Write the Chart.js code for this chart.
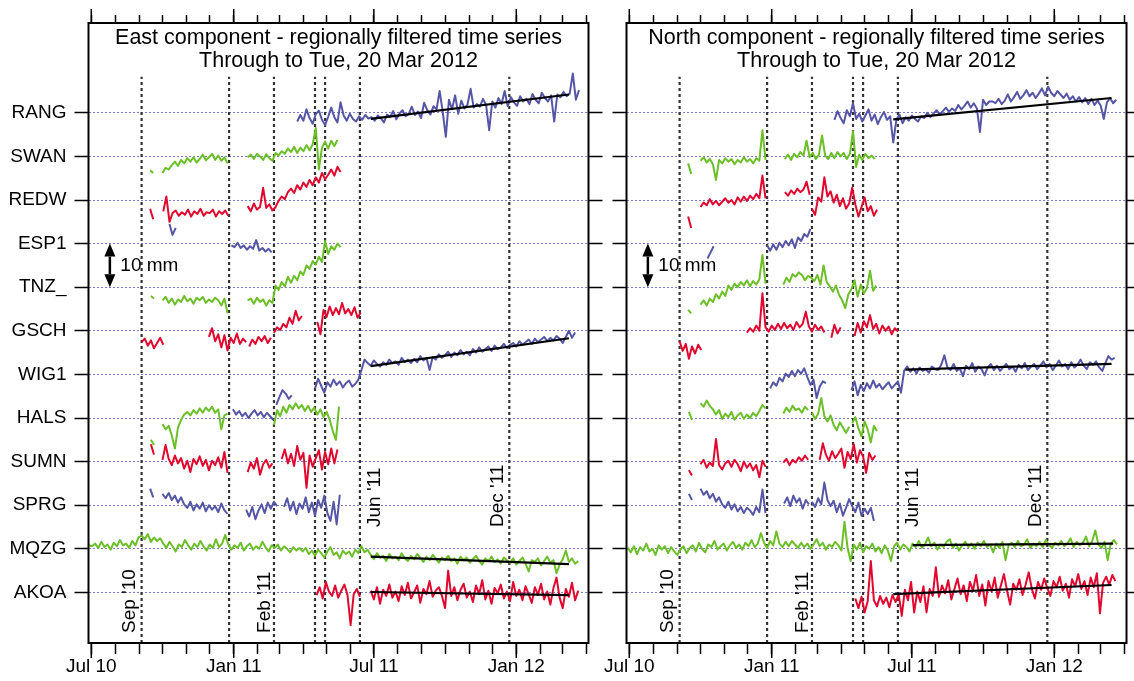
<!DOCTYPE html>
<html>
<head>
<meta charset="utf-8">
<script src="https://cdn.jsdelivr.net/npm/chart.js@4.4.1/dist/chart.umd.min.js"></script>
<style>
  html, body { margin: 0; padding: 0; background: #fff; }
  #wrap { position: relative; width: 1134px; height: 681px; overflow: hidden; }
  canvas { position: absolute; top: 0; }
  #east { left: 0; }
  #north { left: 538px; }
</style>
</head>
<body>
<div id="wrap">
  <canvas id="east" width="620" height="681"></canvas>
  <canvas id="north" width="596" height="681"></canvas>
</div>
<script>
// x values are days since 1 Jul 2010, y values are mm relative to each station's line
const stationNames = ["AKOA", "MQZG", "SPRG", "SUMN", "HALS", "WIG1", "GSCH", "TNZ_", "ESP1", "REDW", "SWAN", "RANG"];
const monthTickDays = [0, 31, 62, 92, 123, 153, 184, 215, 243, 274, 304, 335, 365, 396, 427, 457, 488, 518, 549, 580, 609, 640];
const yearTickDays = [0, 184, 365, 549];
const yearTickLabels = ["Jul 10", "Jan 11", "Jul 11", "Jan 12"];
const eventDays = [65, 178, 236, 289, 302, 347, 540];
const eventNames = ["Sep '10", "Feb '11", "Jun '11", "Dec '11"];
const eventNameDays = [65, 236, 347, 540];
const STEP = 4; // days between samples

// ---- East component: [first day, values...] per segment
const eastRANG = [[266, [-2.0,-0.5,-1.8,0.8,-1.2,-2.5,-0.3,0.5,-1.6,-2.8,-0.9,1.2,-1.0,-2.2,2.4,-0.6,-1.8,-0.2,-1.4,-2.0,-0.8,-1.6,-0.5,-1.3,-1.0,-1.8,-0.6,-1.2,-2.2,-0.4,-1.0,0.4,-1.5,-0.2,0.6,-0.8,-0.3,1.4,-0.5,0.3,-1.2,2.3,0.6,-0.4,1.5,0.8,5.0,0.2,-5.5,3.0,0.8,4.0,-0.2,2.8,1.0,1.9,5.5,1.2,2.0,1.4,3.2,1.8,-4.0,2.6,1.2,3.4,2.0,5.0,1.5,3.6,2.4,1.6,3.8,2.6,3.2,2.0,4.3,3.0,2.2,4.6,3.4,2.6,4.0,-2.0,4.2,3.6,4.8,3.8,4.4,9.0,3.0,5.2]]];
const eastSWAN = [[76, [-3.2,-3.8]], [92, [-3.8,-2.6,-3.0,-2.0,-1.2,-2.2,-0.8,-1.6,-0.4,-1.2,-0.2,-1.4,-0.6,0.4,-0.9,-0.2,0.6,-0.8,0.2,-1.0,-0.2,-1.6]], [202, [-0.2,0.4,-0.6,0.6,0.0,-0.8,0.5,-0.4,-1.0,0.8,0.2,1.2,0.6,1.8,1.0,2.2,0.8,2.0,1.2,2.6,1.4,2.8,6.5,-3.0,2.0,3.4,1.8,3.6,2.4,3.8]]];
const eastREDW = [[76, [-2.0,-4.4]], [93, [-2.6,0.8,-5.0,-3.0,-2.4,-3.6,-2.8,-3.4,-2.2,-3.8,-2.6,-3.2,-2.0,-3.6,-2.8,-3.0,-2.2,-3.8,-2.6,-3.2,-2.4,-3.6]], [202, [-1.4,-2.6,-0.8,-2.2,-1.6,2.8,-1.8,-1.0,-2.4,-1.6,-0.2,0.8,0.2,1.8,2.6,1.6,3.4,2.4,4.0,3.0,4.6,3.4,5.2,4.0,6.2,4.8,5.8,7.0,5.6,7.6,6.4]]];
const eastESP1 = [[101, [4.5,2.0,3.6]], [181, [-0.4,-0.8,0.2,-1.0,-0.4,-1.4,-0.6,-1.2,0.8,-1.6,-1.0,-1.8,-1.2,-2.0]]];
const eastTNZ = [[77, [-2.0,-2.6]], [92, [-3.0,-2.2,-3.6,-2.6,-4.0,-2.8,-3.4,-2.0,-3.2,-2.6,-3.8,-2.4,-3.0,-2.2,-3.6,-2.8,-3.4,-2.4,-3.0,-4.2,-2.6,-6.0]], [202, [-3.0,-2.6,-3.8,-2.4,-3.4,-2.8,-4.2,-3.0,-3.6,0.4,-0.6,1.2,0.2,2.4,1.0,2.6,1.6,3.6,2.8,5.0,4.2,6.0,5.2,7.0,5.8,10.6,7.6,9.4,8.6,10.0,9.2]]];
const eastGSCH = [[65, [-2.6,-1.8,-3.4,-2.2,-4.0,-2.8,-1.6,-3.2]], [152, [-1.4,0.6,-2.4,-0.8,-3.8,-1.0,-4.5,-1.6,-2.8,-0.6,-3.0,-1.8,-2.6]], [204, [-3.6,-2.0,-3.0,-1.4,-2.4,-1.2,-2.8,-1.6]], [236, [-0.5,0.8,0.2,1.6,0.8,3.0,1.6,4.6,2.4,3.4]], [292, [2.0,-0.8,4.8,3.2,5.6,3.6,5.2,3.8,6.4,4.0,5.0,3.6,5.4,3.0,4.2]]];
const eastWIG1 = [[183, [-8.0,-9.2,-8.4,-9.6,-8.8,-10.0,-9.0,-8.2,-9.4,-8.6,-9.8,-8.8,-9.6,-10.4]], [239, [-7.0,-5.2,-3.6,-4.4,-5.6,-4.8]], [289, [-3.2,-1.0,-2.6,-4.2,-1.8,-2.8,-1.2,-2.4,-1.6,-3.0,-2.0,-1.4,-2.8,-2.2,-1.2,1.0,3.4,2.6,2.0,3.2,2.4,1.8,2.8,2.2,3.4,2.6,3.0,2.2,3.8,2.8,3.4,2.6,3.6,2.8,4.2,3.2,3.8,1.0,4.0,3.4,4.6,3.8,4.4,5.2,4.0,5.0,4.4,5.6,4.6,5.2,4.4,5.8,5.0,6.2,5.2,5.8,6.4,5.4,6.6,5.8,6.2,7.0,6.0,6.8,7.2,6.4,7.6,6.8,7.4,8.0,7.0,8.2,7.4,8.0,8.6,7.6,8.4,7.8,8.8,8.2,7.2,8.6,10.0,8.4,9.6]]];
const eastHALS = [[77, [-5.0,-6.2]], [92, [-1.4,-2.6,-1.8,-4.0,-7.0,-2.2,-0.4,0.8,1.4,0.6,1.8,1.0,2.2,1.2,2.4,1.6,2.6,1.2,2.0,-2.6,0.6,1.0]], [236, [-1.6,1.8,0.4,2.6,1.2,3.0,2.0,3.4,2.2,3.0,1.6,2.8,1.4,2.4,0.8,2.0,0.2,1.4,-0.4,-3.0,-5.0,2.6]]];
const eastSUMN = [[77, [4.0,1.6]], [92, [0.4,3.8,0.6,-0.8,1.4,-0.4,0.8,-1.6,0.2,-2.4,0.6,-0.6,1.2,-1.0,0.4,-2.0,0.2,-0.8,1.0,-1.4,2.2,-2.6]], [202, [-2.4,-0.2,-1.6,0.8,-3.0,-0.6,0.4,-1.4,-0.4]], [246, [0.6,2.8,-0.4,1.8,-1.0,3.6,0.4,2.0,-6.0,1.4,-1.2,0.8,2.6,-1.8,2.2,-0.6,3.0,-0.4,2.8]]];
const eastSPRG = [[76, [3.8,1.8]], [92, [2.6,1.6,2.8,1.2,2.2,0.6,1.8,0.2,-0.6,0.8,-1.2,0.2,-0.8,0.6,-1.4,0.0,-1.0,-0.2,-1.6,0.4,-1.2,-2.0]], [200, [-1.0,-2.6,-0.4,-3.2,-1.2,0.2,-1.8,0.6,-0.8,0.8,-0.2]], [249, [-0.4,1.6,-1.2,0.8,-2.0,0.4,-0.8,1.8,-1.6,0.6,-2.4,1.2,-0.6,2.2,-1.8,-3.6,0.8,-4.4,2.4]]];
const eastMQZG = [[-3, [0.8,0.6,1.2,0.2,1.6,0.4,1.0,-0.2,1.4,0.6,2.0,0.8,1.2,0.2,1.8,0.8,2.6,
  3.0,2.2,3.4,1.6,2.6,1.8,2.4,
  1.2,0.2,1.6,0.6,-0.6,1.0,0.4,2.0,0.8,-0.2,1.2,0.4,1.8,0.6,-0.4,1.0,0.2,2.2,0.4,1.2,3.2,
  1.0,-0.2,0.8,0.2,1.4,-0.4,0.6,1.2,-0.2,0.6,0.0,1.6,0.4,-0.6,0.8,0.2,1.0,-0.4,0.6,0.0,-0.8,0.4,-0.4,0.2,
  -0.6,0.2,-1.2,-0.4,-1.6,-0.2,-1.0,-2.0,-0.6,0.4,-1.4,-0.8,-2.2,-0.4,-1.2,-0.6,-1.8,-0.2,-1.0,0.6,-0.8,-0.2,
  -1.4,-2.4,-1.0,-2.0,-1.6,-2.8,-1.2,-2.2,-1.8,-2.6,-1.0,-2.2,-2.8,-1.6,-2.4,-1.2,-2.0,-3.0,-1.8,-2.6,-1.4,-2.2,-3.2,-2.0,-2.6,-1.6,-2.8,-2.2,-3.4,-1.8,-2.6,-2.0,-3.2,-2.4,-1.6,-2.8,-3.6,-2.2,-2.8,-1.8,-3.0,-2.4,-3.4,-2.0,-2.6,-3.2,-2.2,-3.6,-2.8,-2.0,-3.4,-5.2,-2.6,-3.0,-2.2,-3.8,-2.8,-1.8,-3.2,-2.6,-5.6,-3.6,-2.4,-0.4,-3.0,-2.2,-3.4,-2.8]]];
const eastAKOA = [[291, [-0.6,1.2,-1.4,2.4,0.2,-0.8,1.6,-1.2,0.4,1.8,-0.6,-7.5,-0.4,0.8,-1.0]], [361, [0.4,-1.6,1.2,-2.6,0.6,-0.8,1.8,-1.2,0.2,-2.0,1.4,-0.6,2.2,-1.4,0.0,1.6,-2.4,0.8,-0.4,2.6,-1.0,0.4,1.2,-0.8,-3.6,5.0,-0.8,1.2,-1.8,0.6,2.0,-1.2,0.2,-2.2,1.6,-0.4,2.8,-1.6,0.4,-2.6,1.0,-0.2,1.8,-1.4,0.2,-2.0,2.4,-0.8,0.6,-1.8,1.4,-0.4,-2.4,1.2,-0.6,2.0,-1.6,0.2,-2.8,1.0,3.4,-1.2,-3.6,0.8,-1.0,2.2,-1.8,0.4]]];
// fitted lines: station, day1, mm1, day2, mm2
const eastTrends = [["RANG", 361, -1.4, 617, 4.2], ["WIG1", 361, 1.9, 617, 8.3], ["MQZG", 361, -1.8, 617, -3.5], ["AKOA", 361, 0.1, 617, -0.6]];

// ---- North component
const northRANG = [[265, [-1.6,0.4,-1.2,-2.4,0.6,-0.8,2.2,-1.4,-0.2,-2.0,-0.6,0.8,-1.8,-0.4,-2.6,-1.0,0.2,-1.6,-0.8,-6.8,-1.6,-0.4,-2.4,-1.0,-1.8,-0.6,-1.4,-2.0,-0.8,-1.2,0.0,-1.0,-0.2,0.6,-0.4,0.4,1.2,0.2,1.0,0.4,1.8,0.8,1.6,2.6,1.2,2.2,1.0,-4.4,3.0,1.8,2.6,2.6,2.2,3.2,2.0,2.8,4.2,2.6,3.6,4.8,3.2,4.0,5.2,3.8,4.6,3.4,4.4,5.6,4.0,6.0,4.6,3.8,5.0,4.2,3.4,4.4,3.0,3.8,2.6,3.6,2.4,3.4,2.0,3.2,1.8,2.8,1.6,-1.4,2.4,3.4,2.2,3.0]]];
const northSWAN = [[76, [-1.6,-4.0]], [92, [-1.0,-0.2,-1.4,-0.6,-1.8,-5.4,-0.8,-1.6,-0.4,-1.2,-0.6,-1.8,-0.8,-1.4,-0.2,-1.2,-0.6,-1.6,-0.4,-1.0,6.0,-0.8]], [201, [-0.6,0.4,-0.8,0.6,-0.2,1.0,0.2,3.6,-0.2,0.8,-0.6,0.4,4.8,0.2,-0.6,0.8,-0.4,1.0,0.0,0.8,-0.6,0.6,5.8,-2.4,0.4,-0.8,0.6,-0.4,0.2,-0.6]]];
const northREDW = [[76, [-3.8,-6.4]], [92, [-1.6,-0.6,-1.2,0.2,-1.0,-0.2,-1.2,-0.4,0.4,-0.6,0.0,-1.0,0.6,-0.4,0.8,-0.2,1.0,0.2,1.4,0.4,5.6,0.4]], [201, [1.8,1.0,2.2,1.4,2.6,1.8,2.4,4.2,1.2]], [236, [-2.0,-3.4,0.6,-0.4,5.2,0.8,2.0,-0.6,1.2,-1.4,0.4,-2.0,-0.8,2.8,-1.0,-3.8,-1.6,0.6,-2.6,-1.4,-3.6,-2.2]]];
const northESP1 = [[101, [-3.4,-2.0,-0.6]], [178, [-0.4,-1.6,-0.2,-1.4,0.2,-0.8,0.6,-0.4,1.0,-1.0,1.4,0.6,2.2,1.6,3.4]]];
const northTNZ = [[76, [-5.2,-6.0]], [92, [-4.0,-3.0,-4.2,-2.6,-3.4,-1.6,-2.6,-1.0,-2.0,0.4,-0.6,0.8,0.0,1.2,0.4,1.6,0.2,1.4,0.6,1.8,7.4,0.8]], [199, [0.6,2.2,1.2,3.0,2.4,3.4,2.8,1.6,2.6,2.2,1.4,2.8,0.6,5.0,1.2,0.2,-1.0,0.4,-1.8,-3.0,-4.8,-1.6,-0.4,1.6,-2.2,0.6,-1.4,-0.2,3.8,-0.8,0.4]]];
const northGSCH = [[65, [-2.4,-4.6,-3.0,-6.4,-3.6,-5.2,-3.2,-4.4]], [152, [-0.4,0.6,-0.2,1.2,0.0,8.6,0.8,-0.2,1.2,0.2,1.6,0.4,1.8,0.6,1.4,0.2,2.0,0.8,1.6,4.4,1.0,-0.2,1.4,0.2,1.0,-0.4]], [261, [-1.6,1.4,-0.6,0.8]], [291, [-1.2,1.8,-0.4,2.2,0.8,3.6,0.4,1.6,-0.6,1.2,0.0,1.0,-0.8,0.6,-0.2]]];
const northWIG1 = [[182, [-3.2,-1.8,-2.6,-0.8,-1.6,0.2,-0.6,0.8,-0.4,1.0,0.2,1.4,-0.6,-2.4,-1.2,-5.4,-2.8,-1.6,-2.0]], [287, [-3.6,-1.6,-4.8,-2.4,-3.8,-2.0,-3.2,-1.4,-3.0,-2.2,-3.4,-2.6,-1.8,-3.2,-2.4,-1.6,-4.2,0.8,1.8,0.6,1.4,0.2,1.6,0.8,1.2,0.4,1.8,1.2,1.0,2.2,4.4,1.6,1.0,2.4,0.8,1.4,-0.4,2.0,1.2,2.6,0.6,1.8,1.2,-0.2,1.6,2.4,1.0,2.0,0.8,1.6,2.4,1.2,1.8,0.6,2.2,1.4,2.6,1.0,1.8,2.4,1.2,2.0,3.0,1.6,2.4,1.0,2.0,3.2,1.8,2.4,1.2,2.8,1.6,2.2,3.4,2.0,1.2,2.8,2.2,3.0,1.6,0.8,2.6,4.2,3.4,3.8]]];
const northHALS = [[77, [1.4,-0.4]], [92, [3.4,2.6,4.0,2.8,2.0,0.8,1.8,-0.2,1.0,0.2,1.4,-0.4,0.6,1.2,-0.2,0.8,0.0,1.2,0.4,1.6,3.0,2.2]], [199, [1.0,2.4,1.4,2.8,1.8,2.2,1.2,2.6,1.8]], [236, [1.2,-0.2,1.0,4.6,0.4,-0.8,0.6,-1.6,-2.8,-1.0,-2.2,-3.4,-2.0]], [288, [-1.2,0.2,-2.4,-4.2,-0.8,-2.6,-5.6,-1.8,-3.0]]];
const northSUMN = [[77, [-2.0,-3.2]], [92, [-0.6,0.4,-1.4,-0.2,-1.0,5.2,-0.8,-1.8,-0.4,0.2,-1.2,0.4,-0.6,-2.2,0.0,-1.4,-0.4,-2.0,-0.8,-3.6,0.2,-1.2]], [199, [-0.2,0.6,-0.8,0.4,-0.2,1.0,0.2,1.4,0.4]], [246, [0.4,4.2,1.6,0.2,2.4,0.8,1.8,3.0,-1.4,2.2,0.6,4.0,-0.2,2.6,1.2,-2.6,2.0,0.4,1.4]]];
const northSPRG = [[77, [2.6,1.2]], [92, [3.8,2.4,3.2,1.6,2.6,0.8,1.8,0.2,-0.6,0.8,-1.0,0.2,-1.4,-0.4,-1.8,-0.6,-1.2,-2.2,-0.4,-1.6,3.6,-1.8]], [200, [0.4,1.8,-0.2,2.2,0.6,1.6,-0.8,1.2,0.2]], [236, [0.8,-0.4,1.6,0.2,5.2,1.2,-0.2,1.0,-1.6,0.4,-2.4,-0.6,1.4,-0.2,-1.6,0.6,-2.4,-0.8,-2.0,-0.6,-3.6]]];
const northMQZG = [[-2, [0.2,-0.8,0.6,-1.2,0.4,-0.4,1.2,-0.6,0.0,-1.4,0.8,-0.2,0.6,-1.0,0.4,-0.6,-1.4,
  -0.2,0.6,-1.0,0.2,0.8,-0.6,1.4,0.0,-0.8,1.0,0.4,1.8,-0.2,0.6,1.2,-0.4,0.8,1.6,0.2,1.0,-0.2,1.4,0.6,2.0,0.4,1.2,3.6,1.4,
  0.2,1.8,0.8,4.0,1.2,0.4,1.6,0.6,1.8,1.0,0.2,1.4,0.4,1.2,0.0,1.0,2.2,0.6,1.4,-0.2,1.0,0.4,1.6,0.8,
  -0.4,6.2,0.2,-2.8,1.0,-0.2,1.4,-0.8,0.6,0.0,1.2,-0.6,0.4,-1.0,0.8,-0.4,-2.8,0.6,1.4,-0.2,1.0,0.4,-0.6,
  1.2,0.4,1.8,0.2,1.0,2.6,0.6,1.4,-0.2,1.0,0.4,1.6,2.2,0.2,1.2,-0.4,0.8,1.6,0.4,1.2,0.0,1.4,0.6,1.8,0.4,1.0,-0.8,1.2,0.2,1.6,-2.6,0.8,1.4,0.4,1.8,0.6,1.0,2.2,0.2,1.2,0.6,1.6,0.4,2.0,1.0,0.2,1.4,0.8,1.8,0.6,1.2,2.4,0.4,1.6,0.8,1.4,2.8,0.6,1.8,4.2,1.0,0.2,1.6,-2.6,1.2,2.0,1.0]]];
const northAKOA = [[292, [-1.4,-3.6,-1.0,-4.6,-2.0,7.2,-1.8,-3.2,-0.8,-2.6,-1.2,-3.4,-0.6,-2.2,-0.4,-5.4,0.6,-1.8,2.4,-4.6,0.2,-2.2,1.4,-4.6,0.8,-0.8,5.8,-1.0,1.6,-0.2,2.8,-1.6,0.8,3.2,-0.4,1.6,-2.0,2.4,0.4,4.0,-0.8,1.8,-3.0,2.6,0.2,3.4,-1.2,1.6,4.2,0.4,-2.8,2.0,0.6,3.0,-0.6,1.8,4.6,0.8,-1.4,2.4,0.6,3.2,1.0,-0.8,2.6,1.2,3.6,0.4,2.0,-1.2,3.0,1.4,4.2,0.8,2.6,-0.6,3.4,1.2,4.4,-4.8,2.2,3.6,1.8,4.0,2.6]]];
const northTrends = [["RANG", 341, -1.5, 623, 3.4], ["WIG1", 357, 1.1, 623, 2.4], ["MQZG", 366, 0.85, 625, 1.2], ["AKOA", 341, -0.4, 623, 1.7]];

const eastSeries = { RANG: eastRANG, SWAN: eastSWAN, REDW: eastREDW, ESP1: eastESP1, TNZ_: eastTNZ, GSCH: eastGSCH, WIG1: eastWIG1, HALS: eastHALS, SUMN: eastSUMN, SPRG: eastSPRG, MQZG: eastMQZG, AKOA: eastAKOA };
const northSeries = { RANG: northRANG, SWAN: northSWAN, REDW: northREDW, ESP1: northESP1, TNZ_: northTNZ, GSCH: northGSCH, WIG1: northWIG1, HALS: northHALS, SUMN: northSUMN, SPRG: northSPRG, MQZG: northMQZG, AKOA: northAKOA };

// ---- layout / style
const X_MIN = -3.6, X_MAX = 642.3;
const Y_MIN = -11.6, Y_MAX = 130.6;
const EVENT_TOP = 118.3;
const FONT = '"Liberation Sans", Arial, sans-serif';
const colours = ["#e0082e", "#6cbf28", "#5656a6"]; // red, green, blue, repeating up the stations

const decorations = {
  id: "decorations",
  afterDraw(chart, args, o) {
    const { ctx, chartArea: a } = chart;
    const x = chart.scales.x, y = chart.scales.y;
    ctx.save();
    ctx.strokeStyle = "#000";
    ctx.fillStyle = "#000";
    ctx.lineWidth = 2;
    ctx.strokeRect(a.left, a.top, a.right - a.left, a.bottom - a.top);

    // longer ticks at Jan / Jul
    ctx.lineWidth = 1.5;
    ctx.beginPath();
    yearTickDays.forEach(d => {
      const px = x.getPixelForValue(d);
      ctx.moveTo(px, a.bottom); ctx.lineTo(px, a.bottom + 15);
      ctx.moveTo(px, a.top); ctx.lineTo(px, a.top - 14);
    });
    ctx.stroke();

    // title inside the frame
    ctx.font = "21.5px " + FONT;
    ctx.textAlign = "center";
    ctx.textBaseline = "alphabetic";
    const cx = (a.left + a.right) / 2;
    ctx.fillText(o.title, cx, a.top + 21.3);
    ctx.fillText("Through to Tue, 20 Mar 2012", cx, a.top + 44);

    // event names, rotated
    ctx.font = "19px " + FONT;
    ctx.textAlign = "left";
    const shift = [-6.5, -3.5, 20, -6];
    const startMm = [-9.3, -9.3, 15, 15];
    eventNames.forEach((t, i) => {
      ctx.save();
      ctx.translate(x.getPixelForValue(eventNameDays[i]) + shift[i], y.getPixelForValue(startMm[i]));
      ctx.rotate(-Math.PI / 2);
      ctx.fillText(t, 0, 0);
      ctx.restore();
    });

    // 10 mm scale arrow
    const ax = x.getPixelForValue(o.arrowDay);
    const yTop = y.getPixelForValue(80), yBot = y.getPixelForValue(70);
    const hh = 13, hw = 5.5;
    ctx.lineWidth = 2.5;
    ctx.beginPath();
    ctx.moveTo(ax, yTop + hh); ctx.lineTo(ax, yBot - hh);
    ctx.stroke();
    ctx.beginPath();
    ctx.moveTo(ax, yTop); ctx.lineTo(ax - hw, yTop + hh); ctx.lineTo(ax + hw, yTop + hh); ctx.closePath();
    ctx.moveTo(ax, yBot); ctx.lineTo(ax - hw, yBot - hh); ctx.lineTo(ax + hw, yBot - hh); ctx.closePath();
    ctx.fill();
    ctx.textBaseline = "middle";
    ctx.fillText("10 mm", ax + 10.5, y.getPixelForValue(75));
    ctx.restore();
  }
};

function makePanel(id, title, series, trends, showNames, rightWidth) {
  const datasets = [];
  eventDays.forEach(d => datasets.push({
    data: [{ x: d, y: Y_MIN }, { x: d, y: EVENT_TOP }],
    borderColor: "#333", borderWidth: 2.2, borderDash: [3, 3], order: 3
  }));
  stationNames.forEach((name, k) => {
    (series[name] || []).forEach(([start, vals]) => {
      datasets.push({
        data: vals.map((v, i) => ({ x: start + i * STEP, y: k * 10 + v })),
        borderColor: colours[k % 3], borderWidth: 2, order: 2
      });
    });
  });
  trends.forEach(([name, d1, v1, d2, v2]) => {
    const k = stationNames.indexOf(name);
    datasets.push({
      data: [{ x: d1, y: k * 10 + v1 }, { x: d2, y: k * 10 + v2 }],
      borderColor: "#000", borderWidth: 2.2, order: 1
    });
  });

  const monthTicks = s => { s.ticks = monthTickDays.map(v => ({ value: v })); };
  const stationTicks = s => { s.ticks = stationNames.map((n, k) => ({ value: k * 10 })); };

  new Chart(document.getElementById(id), {
    type: "line",
    data: { datasets },
    options: {
      responsive: false,
      animation: false,
      devicePixelRatio: 1,
      layout: { padding: 0 },
      elements: { point: { radius: 0 }, line: { tension: 0, borderJoinStyle: "round" } },
      plugins: {
        legend: { display: false },
        tooltip: { enabled: false },
        decorations: { title, arrowDay: 24 }
      },
      scales: {
        x: {
          type: "linear", position: "bottom", min: X_MIN, max: X_MAX,
          afterBuildTicks: monthTicks,
          afterFit: s => { s.height = 38; },
          border: { display: false },
          grid: { drawOnChartArea: false, tickLength: 11, tickWidth: 1.5, tickColor: "#000" },
          ticks: {
            autoSkip: false, maxRotation: 0, padding: 1, color: "#000",
            font: { family: FONT, size: 19 },
            callback: v => { const i = yearTickDays.indexOf(v); return i < 0 ? "" : yearTickLabels[i]; }
          }
        },
        xTop: {
          type: "linear", position: "top", min: X_MIN, max: X_MAX,
          afterBuildTicks: monthTicks,
          afterFit: s => { s.height = 23; },
          border: { display: false },
          grid: { drawOnChartArea: false, tickLength: 8, tickWidth: 1.5, tickColor: "#000" },
          ticks: { display: false }
        },
        y: {
          type: "linear", position: "left", min: Y_MIN, max: Y_MAX,
          afterBuildTicks: stationTicks,
          afterFit: s => { s.width = 88.5; },
          border: { display: false, dash: [2, 2] },
          grid: { color: "#7c7cc6", lineWidth: 1, tickLength: 14, tickWidth: 1.5, tickColor: "#000" },
          ticks: {
            display: showNames, autoSkip: false, padding: 8, color: "#000",
            font: { family: FONT, size: 19 },
            callback: v => stationNames[Math.round(v / 10)]
          }
        },
        yRight: {
          type: "linear", position: "right", min: Y_MIN, max: Y_MAX,
          afterBuildTicks: stationTicks,
          afterFit: s => { s.width = rightWidth; },
          border: { display: false },
          grid: { drawOnChartArea: false, tickLength: 14, tickWidth: 1.5, tickColor: "#000" },
          ticks: { display: false }
        }
      }
    },
    plugins: [decorations]
  });
}

makePanel("east", "East component - regionally filtered time series", eastSeries, eastTrends, true, 31.5);
makePanel("north", "North component - regionally filtered time series", northSeries, northTrends, false, 7.5);
</script>
</body>
</html>
